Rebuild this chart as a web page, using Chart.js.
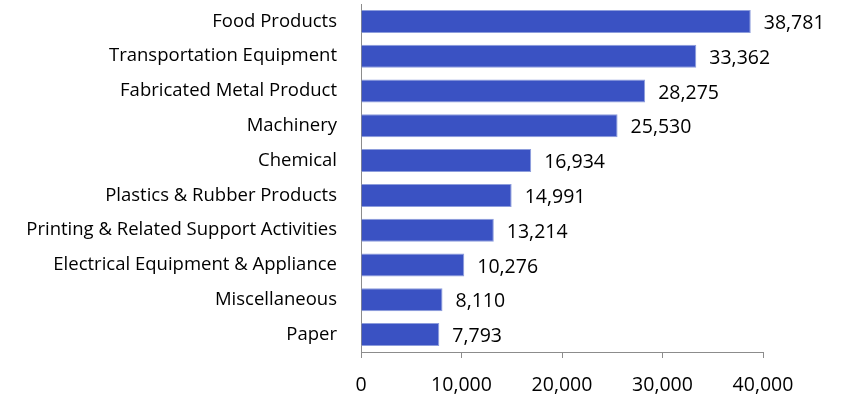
<!DOCTYPE html>
<html>
<head>
<meta charset="utf-8">
<script src="https://cdn.jsdelivr.net/npm/chart.js@4/dist/chart.umd.min.js"></script>
<style>
  html, body { margin: 0; padding: 0; background: #fff; overflow: hidden; }
  canvas { display: block; }
</style>
</head>
<body>
<canvas id="chart" width="843" height="402"></canvas>
<script>
const categories = [
    "Food Products",
    "Transportation Equipment",
    "Fabricated Metal Product",
    "Machinery",
    "Chemical",
    "Plastics & Rubber Products",
    "Printing & Related Support Activities",
    "Electrical Equipment & Appliance",
    "Miscellaneous",
    "Paper"
];
const values = [38781, 33362, 28275, 25530, 16934, 14991, 13214, 10276, 8110, 7793];
const xTicks = [0, 10000, 20000, 30000, 40000];

const fontFamily = "'Open Sans', 'Noto Sans', sans-serif";

// draws the value to the right of each bar
const valueLabels = {
    id: 'valueLabels',
    afterDatasetsDraw(chart) {
        const ctx = chart.ctx;
        const meta = chart.getDatasetMeta(0);
        ctx.save();
        ctx.font = `19.5px ${fontFamily}`;
        ctx.fillStyle = '#000';
        ctx.textAlign = 'left';
        ctx.textBaseline = 'middle';
        meta.data.forEach((bar, i) => {
            ctx.fillText(values[i].toLocaleString('en-US'), bar.x + 13, bar.y + 2);
        });
        ctx.restore();
    }
};

new Chart(document.getElementById('chart').getContext('2d'), {
    type: 'bar',
    data: {
        labels: categories,
        datasets: [{
            data: values,
            backgroundColor: '#3a52c3',
            borderColor: '#8d9ddc',
            borderWidth: 1,
            barPercentage: 0.66,
            categoryPercentage: 1.0
        }]
    },
    options: {
        indexAxis: 'y',
        responsive: false,
        animation: false,
        layout: { padding: { left: 4, right: 80, top: 4, bottom: 5 } },
        plugins: {
            legend: { display: false },
            tooltip: { enabled: false }
        },
        scales: {
            x: {
                min: 0,
                max: 40000,
                afterBuildTicks: scale => {
                    scale.ticks = xTicks.map(v => ({ value: v }));
                },
                afterFit: scale => { scale.height = 45; },
                grid: {
                    drawOnChartArea: false,
                    drawTicks: true,
                    tickLength: 6,
                    color: '#8c8c8c'
                },
                border: { color: '#8c8c8c', width: 1 },
                ticks: {
                    padding: 16,
                    color: '#000',
                    font: { family: fontFamily, size: 19.5 },
                    callback: v => v.toLocaleString('en-US')
                }
            },
            y: {
                afterFit: scale => {
                    scale.width = 357;
                    // no extra room above/below for the label halves
                    scale.paddingTop = 0;
                    scale.paddingBottom = 0;
                },
                grid: { display: false },
                border: { color: '#8c8c8c', width: 1 },
                ticks: {
                    padding: 16,
                    color: '#000',
                    font: { family: fontFamily, size: 18.5 }
                }
            }
        }
    },
    plugins: [valueLabels]
});
</script>
</body>
</html>
